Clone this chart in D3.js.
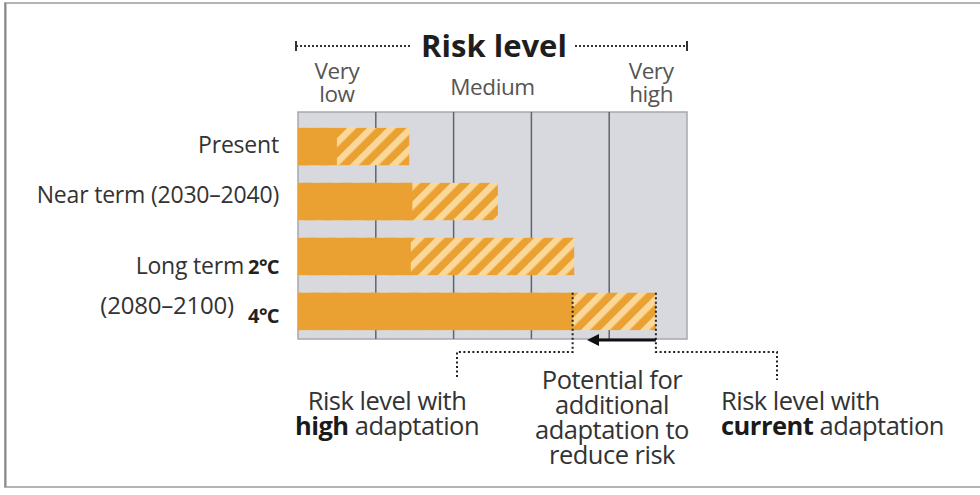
<!DOCTYPE html>
<html>
<head>
<meta charset="utf-8">
<script src="https://cdn.jsdelivr.net/npm/d3@7.9.0/dist/d3.min.js"></script>
<style>
  html, body { margin: 0; padding: 0; background: #fff; }
  svg { display: block; font-family: "Open Sans", "Noto Sans", sans-serif; }
</style>
</head>
<body>
<svg id="chart" width="980" height="495"></svg>
<script>
// rows of the chart, top to bottom
const rows = ['Present', 'Near term', 'Long term 2°C', 'Long term 4°C'];
// risk level (0 = left edge of "very low", 5 = right edge of "very high")
const highAdaptation = [0.5, 1.47, 1.45, 3.53];
const currentAdaptation = [1.43, 2.57, 3.55, 4.6];
// risk level columns and which ones carry a label
const riskLevels = ['Very low', 'Low', 'Medium', 'High', 'Very high'];
const riskLabels = [['Very', 'low'], null, ['Medium'], null, ['Very', 'high']];

const orange = '#eaa132';
const paleStripe = '#fad89a';

const svg = d3.select('#chart');

// outer frame of the figure
svg.append('rect')
  .attr('x', 5).attr('y', 3)
  .attr('width', 990).attr('height', 484)
  .attr('fill', 'none')
  .attr('stroke', '#b4b4b4')
  .attr('stroke-width', 2);
svg.append('line')
  .attr('x1', 5.5).attr('x2', 5.5).attr('y1', 3).attr('y2', 487)
  .attr('stroke', '#8a8a8a').attr('stroke-width', 2);

const x = d3.scaleLinear().domain([0, riskLevels.length]).range([298, 687]);
const y = d3.scaleBand().domain(rows).range([118, 340])
  .paddingInner(0.32).paddingOuter(0.18);

// hatch pattern for the "potential for additional adaptation" part
const defs = svg.append('defs');
const pat = defs.append('pattern')
  .attr('id', 'hatch')
  .attr('patternUnits', 'userSpaceOnUse')
  .attr('width', 14).attr('height', 14)
  .attr('patternTransform', 'rotate(45)');
pat.append('rect').attr('width', 14).attr('height', 14).attr('fill', orange);
pat.append('rect').attr('width', 6.5).attr('height', 14).attr('fill', paleStripe);

// panel
svg.append('rect')
  .attr('x', x(0)).attr('y', 112)
  .attr('width', x(5) - x(0)).attr('height', 339 - 112)
  .attr('fill', '#d8d9de')
  .attr('stroke', '#a6a8ae')
  .attr('stroke-width', 1.5);

svg.append('g')
  .selectAll('line')
  .data(d3.range(1, riskLevels.length))
  .join('line')
  .attr('x1', d => x(d)).attr('x2', d => x(d))
  .attr('y1', 112).attr('y2', 339)
  .attr('stroke', '#5f6372')
  .attr('stroke-width', 1.5);

// bars: hatched part up to current adaptation, solid part up to high adaptation
svg.append('g')
  .selectAll('rect')
  .data(rows)
  .join('rect')
  .attr('x', x(0))
  .attr('y', d => y(d))
  .attr('width', (d, i) => x(currentAdaptation[i]) - x(0))
  .attr('height', y.bandwidth())
  .attr('fill', 'url(#hatch)');

svg.append('g')
  .selectAll('rect')
  .data(rows)
  .join('rect')
  .attr('x', x(0))
  .attr('y', d => y(d))
  .attr('width', (d, i) => x(highAdaptation[i]) - x(0))
  .attr('height', y.bandwidth())
  .attr('fill', orange);

// title with dotted range line
const titleY = 46;
svg.append('text')
  .attr('x', 494).attr('y', 57)
  .attr('text-anchor', 'middle')
  .attr('font-size', 31).attr('font-weight', 'bold')
  .attr('fill', '#1e1e1e')
  .text('Risk level');
[[x(0) - 2, 412], [575, x(5)]].forEach(([a, b]) => {
  svg.append('line')
    .attr('x1', a).attr('x2', b).attr('y1', titleY).attr('y2', titleY)
    .attr('stroke', '#333').attr('stroke-width', 2)
    .attr('stroke-dasharray', '2,2');
});
[x(0) - 2, x(5)].forEach(px => {
  svg.append('line')
    .attr('x1', px).attr('x2', px).attr('y1', titleY - 5).attr('y2', titleY + 5)
    .attr('stroke', '#333').attr('stroke-width', 2);
});

// risk level labels over their columns
riskLabels.forEach((lines, i) => {
  if (!lines) return;
  const t = svg.append('text')
    .attr('text-anchor', 'middle')
    .attr('font-size', 22.5)
    .attr('fill', '#555')
    .attr('letter-spacing', -0.4);
  const cx = x(i + 0.5) + (i === 4 ? 3 : 0);
  const y0 = lines.length === 1 ? 95 : 79;
  lines.forEach((ln, k) => {
    t.append('tspan').attr('x', cx).attr('y', y0 + k * 23).text(ln);
  });
});

// row labels
const labelX = 279;
const lab = svg.append('g')
  .attr('font-size', 23)
  .attr('fill', '#333')
  .attr('letter-spacing', -0.2);
lab.append('text')
  .attr('x', labelX).attr('y', 153)
  .attr('text-anchor', 'end').text('Present');
lab.append('text')
  .attr('x', labelX).attr('y', 203)
  .attr('text-anchor', 'end').text('Near term (2030–2040)');
lab.append('text')
  .attr('x', labelX).attr('y', y(rows[2]) + y.bandwidth() - 1)
  .attr('text-anchor', 'end')
  .call(t => {
    t.append('tspan').text('Long term');
    t.append('tspan').attr('dx', 4).attr('font-weight', 'bold').attr('font-size', 20)
      .attr('letter-spacing', -0.6).attr('fill', '#222').text('2°C');
  });
lab.append('text')
  .attr('x', labelX - 45).attr('y', y(rows[3]) + 21)
  .attr('text-anchor', 'end')
  .attr('font-size', 24)
  .text('(2080–2100)');
lab.append('text')
  .attr('x', labelX).attr('y', y(rows[3]) + 30)
  .attr('text-anchor', 'end')
  .attr('font-weight', 'bold').attr('font-size', 20)
  .attr('letter-spacing', -0.6).attr('fill', '#222')
  .text('4°C');

// annotation for the 4°C row
const last = rows.length - 1;
const rowTop = y(rows[last]);
const xHigh = x(highAdaptation[last]);
const xCur = x(currentAdaptation[last]);
const bend = 352;
const dotted = g => g.attr('fill', 'none')
  .attr('stroke', '#222').attr('stroke-width', 2)
  .attr('stroke-dasharray', '2,2.5');
svg.append('path')
  .attr('d', d3.line()([[xHigh, rowTop], [xHigh, bend], [457, bend], [457, 379]]))
  .call(dotted);
svg.append('path')
  .attr('d', d3.line()([[xCur, rowTop], [xCur, bend], [777, bend], [777, 380]]))
  .call(dotted);

defs.append('marker')
  .attr('id', 'arrow')
  .attr('viewBox', '0 0 10 10')
  .attr('refX', 2).attr('refY', 5)
  .attr('markerWidth', 4).attr('markerHeight', 4)
  .attr('orient', 'auto')
  .append('path').attr('d', 'M0,0L10,5L0,10z').attr('fill', '#111');
svg.append('line')
  .attr('x1', xCur).attr('x2', xHigh + 24)
  .attr('y1', 340).attr('y2', 340)
  .attr('stroke', '#111').attr('stroke-width', 3)
  .attr('marker-end', 'url(#arrow)');

// bottom notes
const note = (cx, anchor, baseY, lines) => {
  const t = svg.append('text')
    .attr('text-anchor', anchor)
    .attr('font-size', 25.5)
    .attr('fill', '#333')
    .attr('letter-spacing', -0.5);
  lines.forEach((parts, k) => {
    const line = t.append('tspan').attr('x', cx).attr('y', baseY + k * 25);
    parts.forEach((p, j) => {
      const s = j === 0 ? line : t.append('tspan');
      s.text(p.text);
      if (p.bold) s.attr('font-weight', 'bold').attr('fill', '#1a1a1a');
    });
  });
};
note(387, 'middle', 410, [[{ text: 'Risk level with' }], [{ text: 'high', bold: true }, { text: ' adaptation' }]]);
note(612, 'middle', 389, [[{ text: 'Potential for' }], [{ text: 'additional' }], [{ text: 'adaptation to' }], [{ text: 'reduce risk' }]]);
note(721, 'start', 410, [[{ text: 'Risk level with' }], [{ text: 'current', bold: true }, { text: ' adaptation' }]]);
</script>
</body>
</html>
